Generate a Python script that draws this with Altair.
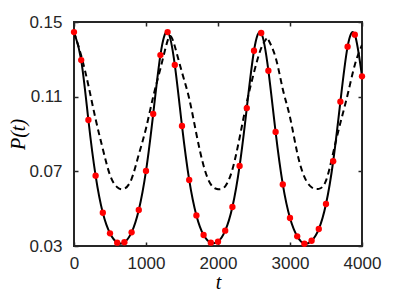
import altair as alt
import pandas as pd

# Red markers (also the solid curve's knots)
dot_t = [0, 100, 200, 300, 400, 500, 600, 700, 800, 900, 1000,
         1100, 1200, 1300, 1400, 1500, 1600, 1700, 1800, 1900, 2000,
         2100, 2200, 2300, 2400, 2500, 2600, 2700, 2800, 2900, 3000,
         3100, 3200, 3300, 3400, 3500, 3600, 3700, 3800, 3900, 4000]
dot_p = [0.1446, 0.1296, 0.0975, 0.0677, 0.0478, 0.0368, 0.0318, 0.0320, 0.0373, 0.0493, 0.0702,
         0.1007, 0.1323, 0.1446, 0.1270, 0.0943, 0.0654, 0.0464, 0.0359, 0.0318, 0.0323,
         0.0382, 0.0509, 0.0729, 0.1039, 0.1346, 0.1441, 0.1239, 0.0911, 0.0630, 0.0450,
         0.0352, 0.0312, 0.0328, 0.0391, 0.0525, 0.0754, 0.1073, 0.1368, 0.1432, 0.1209]

# Dashed curve
dash_t = [0, 100, 200, 300, 400, 500, 600, 700, 800, 900, 1000, 1100, 1200, 1300, 1350,
          1400, 1500, 1600, 1700, 1800, 1900, 2000, 2100, 2200, 2300, 2400, 2500, 2600,
          2675, 2700, 2800, 2900, 3000, 3100, 3200, 3300, 3400, 3500, 3600, 3700, 3800,
          3900, 4000]
dash_p = [0.1445, 0.132, 0.116, 0.098, 0.082, 0.068, 0.0615, 0.0607, 0.066, 0.079, 0.093,
          0.110, 0.125, 0.140, 0.1421, 0.137, 0.123, 0.109, 0.090, 0.073, 0.063, 0.0604,
          0.062, 0.071, 0.088, 0.107, 0.123, 0.136, 0.1412, 0.1405, 0.131, 0.114, 0.099,
          0.080, 0.067, 0.0615, 0.0606, 0.065, 0.080, 0.096, 0.111, 0.127, 0.1377]

x_ticks = [0, 1000, 2000, 3000, 4000]
y_ticks = [0.03, 0.07, 0.11, 0.15]

dots = pd.DataFrame({"t": dot_t, "P": dot_p})
dash = pd.DataFrame({"t": dash_t, "P": dash_p})

xs = alt.Scale(domain=[0, 4000], nice=False, zero=False)
ys = alt.Scale(domain=[0.03, 0.15], nice=False, zero=False)

ax_color = "#262626"

x_bottom = alt.Axis(orient="bottom", values=x_ticks, format="d", offset=-4, tickSize=4,
                    domain=False, grid=False, labelPadding=9, labelFontSize=17,
                    labelFont="Liberation Sans", labelColor=ax_color, tickColor=ax_color,
                    tickWidth=1.5, title="t", titleFont="Liberation Serif",
                    titleFontStyle="italic", titleFontWeight="normal", titleFontSize=20,
                    titleColor="#000000", titlePadding=1, labelFlush=False)
y_left = alt.Axis(orient="left", values=y_ticks, format=".2f", offset=-4, tickSize=4,
                  domain=False, grid=False, labelPadding=12, labelFontSize=17,
                  labelFont="Liberation Sans", labelColor=ax_color, tickColor=ax_color,
                  tickWidth=1.5, title="P(t)", titleFont="Liberation Serif",
                  titleFontStyle="italic", titleFontWeight="normal", titleFontSize=20,
                  titleColor="#000000", titlePadding=0, labelFlush=False)
x_top = alt.Axis(orient="top", values=x_ticks, offset=-4, tickSize=4, domain=False,
                 grid=False, labels=False, title=None, tickColor=ax_color, tickWidth=1.5)
y_right = alt.Axis(orient="right", values=y_ticks, offset=-4, tickSize=4, domain=False,
                   grid=False, labels=False, title=None, tickColor=ax_color, tickWidth=1.5)

dashed = alt.Chart(dash).mark_line(
    color="#000000", strokeWidth=2, strokeDash=[6, 4], interpolate="natural", clip=True
).encode(
    x=alt.X("t:Q", scale=xs, axis=x_bottom),
    y=alt.Y("P:Q", scale=ys, axis=y_left),
)

solid = alt.Chart(dots).mark_line(
    color="#000000", strokeWidth=2, interpolate="natural", clip=True
).encode(
    x=alt.X("t:Q", scale=xs, axis=x_top),
    y=alt.Y("P:Q", scale=ys, axis=y_right),
)

points = alt.Chart(dots).mark_circle(color="#ff0000", opacity=1, size=40, clip=False).encode(
    x=alt.X("t:Q", scale=xs, axis=None),
    y=alt.Y("P:Q", scale=ys, axis=None),
)

chart = alt.layer(dashed, solid, points).resolve_axis(
    x="independent", y="independent"
).properties(
    width=288, height=224,
    autosize=alt.AutoSizeParams(type="none"),
    padding={"left": 66, "top": 14, "right": 29, "bottom": 45},
    background="#ffffff",
).configure_view(
    stroke=ax_color, strokeWidth=2
)

chart.save("out.html", embed_options={"renderer": "svg", "actions": False})
